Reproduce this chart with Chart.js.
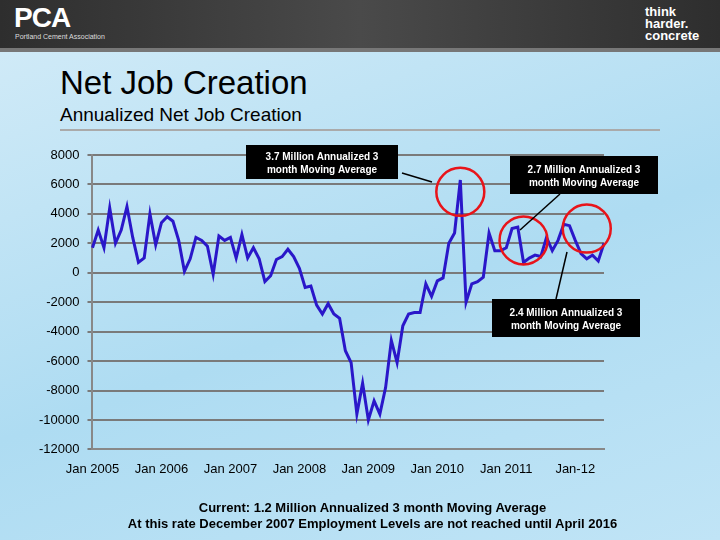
<!DOCTYPE html>
<html><head><meta charset="utf-8">
<script src="https://cdn.jsdelivr.net/npm/chart.js@4"></script>
<style>
body{margin:0;width:720px;height:540px;overflow:hidden;font-family:"Liberation Sans",Arial,sans-serif;
background:linear-gradient(160deg,#d4ecf8 0%,#aedcf2 55%,#c0e4f6 100%);position:relative}
#top{position:absolute;left:0;top:0;width:720px;height:48px;background:linear-gradient(90deg,#2e2e2e,#4a4a4a 50%,#2e2e2e)}
#band{position:absolute;left:0;top:48px;width:720px;height:4px;background:#777}
#pca{position:absolute;left:14px;top:2px;color:#fff;font-weight:bold;font-size:28px;letter-spacing:-1px}
#pcasub{position:absolute;left:15px;top:33px;color:#ddd;font-size:7px}
#think{position:absolute;left:645px;top:6px;color:#fff;font-size:13px;line-height:12px;font-weight:bold}
#title{position:absolute;left:60px;top:64px;font-size:33px;color:#000}
#sub{position:absolute;left:60px;top:104px;font-size:19px;color:#000}
#rule{position:absolute;left:60px;top:129px;width:600px;height:2px;background:#aaa}
#foot{position:absolute;left:0;width:745px;top:500px;text-align:center;font-weight:bold;font-size:13px;line-height:16px}
#wrap{position:absolute;left:0;top:0;width:720px;height:540px}
</style></head><body>
<div id="top"></div><div id="band"></div>
<div id="pca">PCA</div><div id="pcasub">Portland Cement Association</div>
<div id="think">think<br>harder.<br>concrete</div>
<div id="title">Net Job Creation</div>
<div id="sub">Annualized Net Job Creation</div>
<div id="rule"></div>
<div id="wrap"><canvas id="chart"></canvas></div>
<div id="foot">Current: 1.2 Million Annualized 3 month Moving Average<br>At this rate December 2007 Employment Levels are not reached until April 2016</div>
<script>
const years = ['2005','2006','2007','2008','2009','2010','2011','2012'];
const monthNames = ['Jan','Feb','Mar','Apr','May','Jun','Jul','Aug','Sep','Oct','Nov','Dec'];
const jobs = [
 1700,2900,1700,4400,2000,2900,4500,2400,700,1000,4000,1900,
 3400,3800,3500,2200,100,950,2400,2200,1800,-100,2500,2200,
 2400,1000,2600,1000,1700,950,-600,-200,900,1100,1600,1100,
 300,-1000,-900,-2200,-2800,-2100,-2800,-3100,-5300,-6100,-9600,-7500,
 -10000,-8700,-9600,-7800,-4600,-6100,-3600,-2800,-2700,-2700,-750,-1600,
 -550,-350,2000,2700,6300,-2000,-750,-600,-300,2700,1500,1500,
 1700,3000,3100,700,1000,1200,1100,2400,1500,2200,3300,3200,
 2200,1300,950,1200,800,2000
];
const months = jobs.map((v,i) => monthNames[i%12] + ' ' + years[Math.floor(i/12)]);
const yTicks = [8000,6000,4000,2000,0,-2000,-4000,-6000,-8000,-10000,-12000];
const notes = [
 {text:['3.7 Million Annualized 3','month Moving Average'], box:[246,145,152,34], arrow:[[402,173],[432,182]]},
 {text:['2.7 Million Annualized 3','month Moving Average'], box:[510,156,148,38], arrow:[[560,194],[520,230]]},
 {text:['2.4 Million Annualized 3','month Moving Average'], box:[492,299,148,38], arrow:[[556,299],[567,252]]}
];
const circles = [[64,5500,24],[75,2200,24],[86,3000,24]]; // data index, value, radius

const annotate = {
  id:'annotate',
  afterDatasetsDraw(chart){
    const c = chart.ctx, xs = chart.scales.x, ys = chart.scales.y;
    c.save();
    c.strokeStyle = '#e8141a'; c.lineWidth = 2.5;
    circles.forEach(([i,v,rad]) => {
      c.beginPath(); c.arc(xs.getPixelForValue(i), ys.getPixelForValue(v), rad, 0, Math.PI*2); c.stroke();
    });
    notes.forEach(n => {
      c.fillStyle = '#000';
      c.fillRect(n.box[0], n.box[1], n.box[2], n.box[3]);
      c.fillStyle = '#fff'; c.font = 'bold 10px "Liberation Sans", Arial'; c.textAlign = 'center';
      n.text.forEach((t,k) => c.fillText(t, n.box[0]+n.box[2]/2, n.box[1]+n.box[3]/2 - 2 + k*13));
      c.strokeStyle = '#000'; c.lineWidth = 1.5;
      const [a,b] = n.arrow;
      c.beginPath(); c.moveTo(a[0],a[1]); c.lineTo(b[0],b[1]); c.stroke();
    });
    c.restore();
  }
};

new Chart(document.getElementById('chart'), {
  type:'line',
  data:{labels:months, datasets:[{data:jobs, borderColor:'#2a17c9', borderWidth:3, pointRadius:0, tension:0, fill:false}]},
  options:{
    responsive:true, maintainAspectRatio:false, animation:false,
    layout:{padding:{top:155,right:116,left:31,bottom:59}},
    plugins:{legend:{display:false}, tooltip:{enabled:false}},
    scales:{
      x:{grid:{display:false}, border:{color:'#888',width:2},
        ticks:{autoSkip:false, maxRotation:0, color:'#000', font:{size:13}, padding:4,
          callback(v,i){ if(i%12) return null; const y = years[i/12]; return y==='2012' ? 'Jan-12' : 'Jan ' + y; }}},
      y:{min:-12000, max:8000, afterBuildTicks(ax){ ax.ticks = yTicks.map(v => ({value:v})); },
        grid:{color:'#7a7a7a', lineWidth:2, drawTicks:true, tickLength:5},
        border:{color:'#888',width:2},
        ticks:{color:'#000', font:{size:13}, padding:8, callback:v => String(v)}}
    }
  },
  plugins:[annotate]
});
</script>
</body></html>
